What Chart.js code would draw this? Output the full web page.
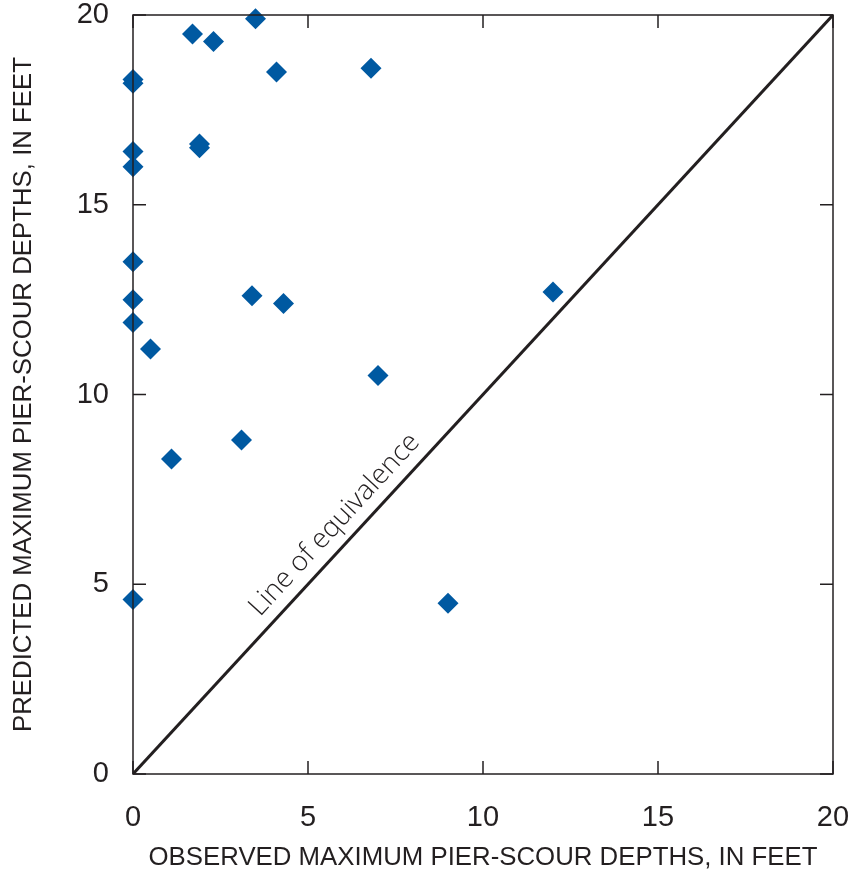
<!DOCTYPE html>
<html>
<head>
<meta charset="utf-8">
<title>Predicted vs observed pier-scour depths</title>
<script src="https://cdn.jsdelivr.net/npm/chart.js@4"></script>
<style>
  html, body { margin: 0; padding: 0; background: #ffffff; }
  #chart { display: block; }
</style>
</head>
<body>
<canvas id="chart" width="854" height="877"></canvas>
<script>
// Data
const observed  = [0, 0, 0, 0, 1.7, 2.3, 3.5, 4.1, 6.8, 1.9, 1.9, 0, 0, 0, 0.5, 3.4, 4.3, 7.0, 3.1, 1.1, 0, 9.0, 12.0];
const predicted = [18.3, 18.2, 16.4, 16.0, 19.5, 19.3, 19.9, 18.5, 18.6, 16.6, 16.5, 13.5, 12.5, 11.9, 11.2, 12.6, 12.4, 10.5, 8.8, 8.3, 4.6, 4.5, 12.7];
const equivalenceLine = [0, 20];
const xTicks = [0, 5, 10, 15, 20];
const yTicks = [0, 5, 10, 15, 20];

const xTitle = 'OBSERVED MAXIMUM PIER-SCOUR DEPTHS, IN FEET';
const yTitle = 'PREDICTED MAXIMUM PIER-SCOUR DEPTHS, IN FEET';
const lineLabel = 'Line of equivalence';

// Style
const ink = '#231f20';
const markerBlue = '#0059a1';
const tickFont = { family: 'Liberation Sans, Arial, sans-serif', size: 29 };
const titleFont = { family: 'Liberation Sans, Arial, sans-serif', size: 25.8 };

// box + inward ticks on all four sides, and the rotated label
const frameAndLabel = {
    id: 'frameAndLabel',
    afterDatasetsDraw(chart) {
        const ctx = chart.ctx;
        const { left, right, top, bottom } = chart.chartArea;
        const xs = chart.scales.x, ys = chart.scales.y;
        const tickLen = 13;

        ctx.save();
        ctx.strokeStyle = ink;
        ctx.lineWidth = 1.5;
        ctx.strokeRect(left, top, right - left, bottom - top);

        ctx.beginPath();
        xTicks.forEach(v => {
            const px = xs.getPixelForValue(v);
            ctx.moveTo(px, bottom); ctx.lineTo(px, bottom - tickLen);
            ctx.moveTo(px, top); ctx.lineTo(px, top + tickLen);
        });
        yTicks.forEach(v => {
            const py = ys.getPixelForValue(v);
            ctx.moveTo(left, py); ctx.lineTo(left + tickLen, py);
            ctx.moveTo(right, py); ctx.lineTo(right - tickLen, py);
        });
        ctx.stroke();

        // label along the equivalence line
        const x0 = xs.getPixelForValue(equivalenceLine[0]), y0 = ys.getPixelForValue(equivalenceLine[0]);
        const x1 = xs.getPixelForValue(equivalenceLine[1]), y1 = ys.getPixelForValue(equivalenceLine[1]);
        const ang = Math.atan2(y1 - y0, x1 - x0);
        const ax = xs.getPixelForValue(3.9), ay = ys.getPixelForValue(3.9);
        ctx.translate(ax, ay);
        ctx.rotate(ang);
        ctx.fillStyle = ink;
        ctx.font = '300 27.5px "Open Sans", "Liberation Sans", sans-serif';
        ctx.textAlign = 'left';
        ctx.textBaseline = 'alphabetic';
        ctx.fillText(lineLabel, 0, -13);
        ctx.restore();
    }
};

const ctx = document.getElementById('chart').getContext('2d');
new Chart(ctx, {
    type: 'scatter',
    data: {
        datasets: [
            {
                label: 'Sites',
                data: observed.map((x, i) => ({ x: x, y: predicted[i] })),
                pointStyle: 'rectRot',
                pointRadius: 10.5,
                pointHoverRadius: 10.5,
                backgroundColor: markerBlue,
                borderWidth: 0,
                clip: false,
                order: 0
            },
            {
                type: 'line',
                label: lineLabel,
                data: equivalenceLine.map(v => ({ x: v, y: v })),
                borderColor: ink,
                borderWidth: 3,
                pointRadius: 0,
                fill: false,
                order: 1
            }
        ]
    },
    options: {
        responsive: false,
        animation: false,
        layout: { padding: { top: 15, right: 21, left: 0, bottom: 0 } },
        plugins: {
            legend: { display: false },
            tooltip: { enabled: false }
        },
        scales: {
            x: {
                type: 'linear',
                min: 0, max: 20,
                afterBuildTicks: s => { s.ticks = xTicks.map(v => ({ value: v })); },
                afterFit: s => { s.height = 103; s.paddingLeft = 0; s.paddingRight = 0; },
                grid: { display: false, drawTicks: false },
                border: { display: false },
                ticks: { color: ink, font: tickFont, padding: 27, maxRotation: 0 },
                title: { display: true, text: xTitle, color: ink, font: titleFont, padding: 4 }
            },
            y: {
                type: 'linear',
                min: 0, max: 20,
                afterBuildTicks: s => { s.ticks = yTicks.map(v => ({ value: v })); },
                afterFit: s => { s.width = 133; s.paddingTop = 0; s.paddingBottom = 0; },
                grid: { display: false, drawTicks: false },
                border: { display: false },
                ticks: { color: ink, font: tickFont, padding: 24 },
                title: { display: true, text: yTitle, color: ink, font: titleFont, padding: 8 }
            }
        }
    },
    plugins: [frameAndLabel]
});
</script>
</body>
</html>
